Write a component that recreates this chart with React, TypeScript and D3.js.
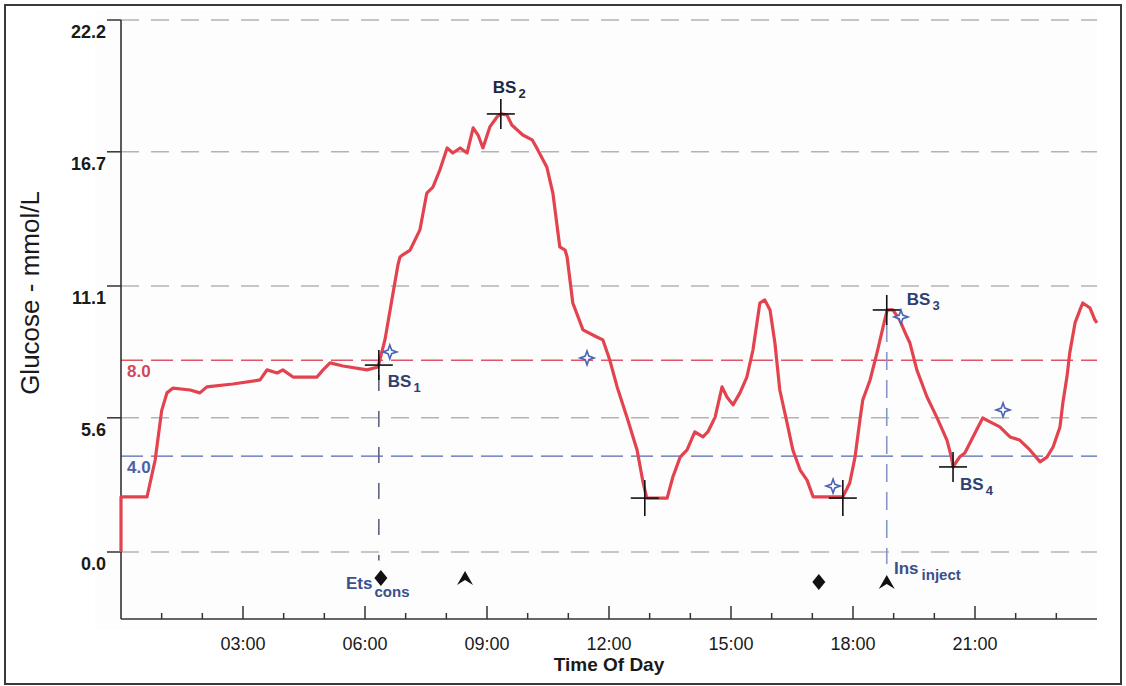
import React from 'react';
import * as d3 from 'd3';

// Continuous glucose trace: time of day (hours) and glucose (mmol/L)
const traceHours = [
  0.0, 0.0, 0.64, 0.84, 1.0, 1.13, 1.28, 1.7, 1.94, 2.11, 2.75, 3.42, 3.59, 3.84, 3.98, 4.23, 4.82, 4.97,
  5.14, 5.46, 6.05, 6.32, 6.49, 6.66, 6.81, 6.86, 6.93, 7.11, 7.35, 7.52, 7.67, 7.84, 8.02, 8.16, 8.34,
  8.51, 8.66, 8.78, 8.9, 9.07, 9.25, 9.34, 9.49, 9.61, 9.88, 10.11, 10.25, 10.47, 10.62, 10.79, 10.92,
  10.97, 11.11, 11.36, 11.7, 11.85, 12.02, 12.2, 12.44, 12.69, 12.84, 12.93, 13.43, 13.57, 13.75, 13.92,
  14.11, 14.31, 14.43, 14.61, 14.78, 14.9, 15.05, 15.22, 15.39, 15.54, 15.71, 15.83, 15.96, 16.08, 16.2,
  16.38, 16.52, 16.7, 16.87, 17.02, 17.75, 17.92, 18.05, 18.17, 18.24, 18.42, 18.59, 18.74, 18.84, 18.98,
  19.15, 19.33, 19.4, 19.57, 19.82, 20.06, 20.31, 20.42, 20.46, 20.62, 20.75, 20.95, 21.19, 21.37, 21.61,
  21.86, 22.1, 22.35, 22.6, 22.77, 22.92, 23.09, 23.16, 23.26, 23.33, 23.46, 23.58, 23.65, 23.83, 23.95, 24.0,
];
const traceGlucose = [
  0.0, 2.3, 2.3, 3.84, 5.9, 6.64, 6.84, 6.76, 6.64, 6.89, 7.01, 7.18, 7.6, 7.47, 7.6, 7.3, 7.3, 7.6,
  7.89, 7.76, 7.6, 7.72, 8.85, 10.52, 11.98, 12.31, 12.4, 12.6, 13.44, 14.98, 15.23, 15.94, 16.86, 16.65, 16.86,
  16.65, 17.7, 17.4, 16.86, 17.74, 18.16, 18.28, 18.24, 17.82, 17.4, 17.2, 16.78, 16.07, 14.98, 12.73, 12.6,
  12.31, 10.39, 9.27, 8.97, 8.85, 8.01, 6.89, 5.63, 4.26, 2.88, 2.25, 2.25, 3.13, 3.96, 4.26,
  5.01, 4.8, 5.01, 5.63, 6.89, 6.47, 6.14, 6.64, 7.3, 8.43, 10.39, 10.52, 10.1, 8.72, 6.76,
  5.38, 4.26, 3.42, 3.0, 2.3, 2.3, 2.88, 3.96, 5.51, 6.34, 7.18, 8.31, 9.39, 10.1, 10.1,
  9.68, 8.97, 8.72, 7.6, 6.47, 5.63, 4.67, 3.96, 3.55, 3.96, 4.13, 4.8, 5.59, 5.43, 5.22,
  4.8, 4.67, 4.26, 3.76, 3.96, 4.38, 5.22, 6.22, 7.3, 8.31, 9.56, 10.1, 10.39, 10.18, 9.68, 9.56,
];

// Blood-sample readings (labelled) and unlabelled minima
const bsLabels = ['1', '2', '3', '4'];
const bsHours = [6.34, 9.34, 18.83, 20.46];
const bsGlucose = [7.8, 18.28, 10.1, 3.55];
const lowHours = [12.88, 17.75];
const lowGlucose = [2.25, 2.25];

// Meter readings (open star markers)
const meterHours = [6.61, 11.46, 17.51, 19.18, 21.69];
const meterGlucose = [8.35, 8.1, 2.75, 9.81, 5.93];

// Events below the zero line
const mealHours = [6.39, 17.16];
const mealLevel = [-1.09, -1.25];
const insulinHours = [8.46, 18.83];
const insulinLevel = [-1.09, -1.25];

// Axis ticks and thresholds
const yTicks = [0.0, 5.6, 11.1, 16.7, 22.2];
const xMajorHours = [3, 6, 9, 12, 15, 18, 21];
const xMinorHours = [1, 2, 4, 5, 7, 8, 10, 11, 13, 14, 16, 17, 19, 20, 22, 23];
const thresholds = [8.0, 4.0];
const thresholdColors = ['#de5566', '#5468b4'];
const thresholdTextColors = ['#d4475a', '#4a62aa'];

const FONT = "Arial, 'Liberation Sans', Helvetica, sans-serif";

const x = d3.scaleLinear().domain([0, 24]).range([121, 1097]);
const y = d3.scaleLinear().domain([0, 22.2]).range([552, 20]);
const axisY = 619;

const fmtHour = (h: number) => `${String(h).padStart(2, '0')}:00`;

const starPath = 'M0,-7 L1.8,-1.8 L7,0 L1.8,1.8 L0,7 L-1.8,1.8 L-7,0 L-1.8,-1.8 Z';
const diamondPath = 'M0,-8 L6.5,0 L0,8 L-6.5,0 Z';
const caretPath = 'M-8,7 L0,-7 L8,7 L0,2 Z';

function Cross({ cx, cy, hw, hh }: { cx: number; cy: number; hw: number; hh: number }) {
  return (
    <g stroke="#111" strokeWidth={1.6}>
      <line x1={cx - hw} x2={cx + hw} y1={cy} y2={cy} />
      <line x1={cx} x2={cx} y1={cy - hh} y2={cy + hh} />
    </g>
  );
}

export default function App() {
  const line = d3
    .line<number>()
    .x((_, i) => x(traceHours[i]))
    .y((_, i) => y(traceGlucose[i]));
  const tracePath = line(traceGlucose) || '';

  // label offsets around each blood-sample cross
  const bsLabelOffsets = [
    { dx: 9, dy: 22 },
    { dx: -8, dy: -21 },
    { dx: 20, dy: -5 },
    { dx: 7, dy: 23 },
  ];

  return (
    <svg
      width={1126}
      height={686}
      viewBox="0 0 1126 686"
      style={{ position: 'absolute', left: 0, top: 0, display: 'block', background: '#fff' }}
      fontFamily={FONT}
    >
      <rect x={0} y={0} width={1126} height={686} fill="#fff" />
      <rect x={95} y={10} width={1002} height={620} fill="#fdfdfd" />
      {/* outer frame */}
      <rect x={5} y={5} width={1116} height={679} fill="none" stroke="#3a3a3a" strokeWidth={2} />

      {/* horizontal gridlines */}
      {yTicks.map((t) => (
        <g key={`g${t}`}>
          <line
            x1={x(0)}
            x2={x(24)}
            y1={y(t)}
            y2={y(t)}
            stroke="#b4b4b4"
            strokeWidth={1.5}
            strokeDasharray="18,12"
          />
          <line x1={107} x2={x(0)} y1={y(t)} y2={y(t)} stroke="#333" strokeWidth={1.5} />
          <text
            x={106}
            y={y(t) + 18}
            textAnchor="end"
            fontSize={18}
            fontWeight="bold"
            fill="#1a1a1a"
          >
            {t.toFixed(1)}
          </text>
        </g>
      ))}

      {/* threshold lines */}
      {thresholds.map((t, i) => (
        <g key={`t${t}`}>
          <line
            x1={x(0)}
            x2={x(24)}
            y1={y(t)}
            y2={y(t)}
            stroke={thresholdColors[i]}
            strokeWidth={1.4}
            strokeDasharray="22,8"
          />
          <text x={127} y={y(t) + 17} fontSize={17} fontWeight="bold" fill={thresholdTextColors[i]}>
            {t.toFixed(1)}
          </text>
        </g>
      ))}

      {/* vertical event guides */}
      <line
        x1={x(bsHours[0])}
        x2={x(bsHours[0])}
        y1={y(bsGlucose[0]) + 10}
        y2={y(-0.35)}
        stroke="#5c6784"
        strokeWidth={1.6}
        strokeDasharray="16,20"
      />
      <line
        x1={x(bsHours[2])}
        x2={x(bsHours[2])}
        y1={y(bsGlucose[2]) + 14}
        y2={y(-0.5)}
        stroke="#8797c8"
        strokeWidth={1.6}
        strokeDasharray="18,10"
      />

      {/* axes */}
      <line x1={x(0)} x2={x(0)} y1={y(22.2)} y2={axisY} stroke="#333" strokeWidth={1.6} />
      <line x1={x(0)} x2={x(24)} y1={axisY} y2={axisY} stroke="#333" strokeWidth={1.6} />
      {xMajorHours.map((h) => (
        <g key={`M${h}`}>
          <line x1={x(h)} x2={x(h)} y1={axisY} y2={axisY - 13} stroke="#333" strokeWidth={1.5} />
          <text x={x(h)} y={650} textAnchor="middle" fontSize={18} fill="#1a1a1a">
            {fmtHour(h)}
          </text>
        </g>
      ))}
      {xMinorHours.map((h) => (
        <line key={`m${h}`} x1={x(h)} x2={x(h)} y1={axisY} y2={axisY - 6} stroke="#333" strokeWidth={1.5} />
      ))}
      <text x={609} y={671} textAnchor="middle" fontSize={19} fontWeight="bold" fill="#1a1a1a">
        Time Of Day
      </text>
      <text
        transform="translate(39,293) rotate(-90)"
        textAnchor="middle"
        fontSize={26}
        fill="#1a1a1a"
      >
        Glucose - mmol/L
      </text>

      {/* glucose trace */}
      <path d={tracePath} fill="none" stroke="#e2434f" strokeWidth={3.2} strokeLinejoin="round" />

      {/* blood-sample crosses */}
      {bsHours.map((h, i) => (
        <g key={`bs${i}`}>
          <Cross cx={x(h)} cy={y(bsGlucose[i])} hw={14} hh={15} />
          <text
            x={x(h) + bsLabelOffsets[i].dx}
            y={y(bsGlucose[i]) + bsLabelOffsets[i].dy}
            fontSize={17}
            fontWeight="bold"
            fill={i === 1 ? '#1e2740' : '#2f3f70'}
          >
            BS
            <tspan fontSize={13} dx={2} dy={5}>
              {bsLabels[i]}
            </tspan>
          </text>
        </g>
      ))}
      {lowHours.map((h, i) => (
        <Cross key={`low${i}`} cx={x(h)} cy={y(lowGlucose[i])} hw={14} hh={18} />
      ))}

      {/* meter readings */}
      {meterHours.map((h, i) => (
        <path
          key={`mt${i}`}
          d={starPath}
          transform={`translate(${x(h)},${y(meterGlucose[i])})`}
          fill="#fff"
          stroke="#4a63b5"
          strokeWidth={1.6}
        />
      ))}

      {/* event markers */}
      {mealHours.map((h, i) => (
        <path key={`meal${i}`} d={diamondPath} transform={`translate(${x(h)},${y(mealLevel[i])})`} fill="#111" />
      ))}
      {insulinHours.map((h, i) => (
        <path key={`ins${i}`} d={caretPath} transform={`translate(${x(h)},${y(insulinLevel[i])})`} fill="#111" />
      ))}

      <text x={346} y={589} fontSize={17} fontWeight="bold" fill="#3a4f8c">
        Ets
        <tspan fontSize={15} dx={2} dy={8}>
          cons
        </tspan>
      </text>
      <text x={894} y={574} fontSize={17} fontWeight="bold" fill="#3a4f8c">
        Ins
        <tspan fontSize={15} dx={3} dy={6}>
          inject
        </tspan>
      </text>
    </svg>
  );
}
